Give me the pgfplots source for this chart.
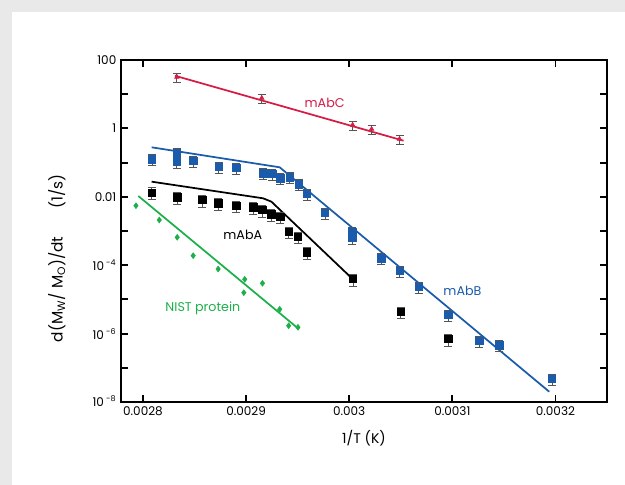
\documentclass[border=0pt]{standalone}
\usepackage{pgfplots}
\pgfplotsset{compat=1.18}
\usepackage{fontspec}
\setmainfont{Poppins}
\definecolor{cred}{HTML}{D81B45}
\definecolor{cblue}{HTML}{1A5CAB}
\definecolor{cgreen}{HTML}{1DB04A}
\definecolor{ebar}{HTML}{555555}
\definecolor{bggray}{HTML}{E9E9E9}
\begin{document}
\begin{tikzpicture}[x=0.75pt,y=0.75pt]
% page: 625x485 px, axis box lower-left at image pixel (121,402)
\fill[bggray] (-121,-83) rectangle (504,402);
\fill[white] (-109,-83) rectangle (504,390);
\begin{axis}[
    scale only axis,
    width=364.5pt,
    height=256.5pt,
    ymode=log,
    xmin=0.0027787, xmax=0.00325,
    ymin=1e-8, ymax=100,
    scaled x ticks=false,
    xtick={0.0028,0.0029,0.003,0.0031,0.0032},
    xticklabels={0.0028,0.0029,0.003,0.0031,0.0032},
    ytick={1e-8,1e-6,1e-4,1e-2,1,100},
    yticklabels={\raisebox{1.5pt}{10\textsuperscript{ -8}},
                 \raisebox{-0.8pt}{10\textsuperscript{ -6}},
                 \raisebox{-0.8pt}{10\textsuperscript{ -4}},
                 \raisebox{-7.5pt}{0.01},
                 \raisebox{-5.5pt}{1},
                 \raisebox{-5.2pt}{100}},
    minor ytick={1e-7,1e-5,1e-3,0.1,10},
    tick align=inside,
    major tick length=5.25pt,
    minor tick length=5.25pt,
    every tick/.style={black, line width=1.4pt},
    axis line style={line width=1.8pt},
    tick label style={font=\fontsize{9}{11}\selectfont},
    xlabel={1/T (K)},
    ylabel={d(M\textsubscript{W}/ M\textsubscript{O})/dt\hspace{1.8em}(1/s)},
    xlabel style={font=\fontsize{10.5}{13}\selectfont, at={(axis description cs:0.5,-0.105)}, anchor=center},
    ylabel style={font=\fontsize{11.5}{13}\selectfont, at={(axis description cs:-0.132,0.42)}, anchor=center, rotate=0},
    clip=false,
]
% mAbC
\addplot[cred, line width=1.3pt] coordinates {(0.002831,34.7) (0.0030527,0.437)};
\addplot[only marks, mark=triangle*, mark size=2pt, cred,
    error bars/.cd, y dir=both, y fixed relative=0.3,
    error bar style={ebar, line width=0.6pt},
    error mark options={ebar, line width=0.6pt, mark size=3pt, rotate=90}]
    coordinates {
    (0.0028329,31.8) (0.0029152,7.74) (0.0030033,1.26) (0.0030217,0.955) (0.0030488,0.49)
};
% mAbB
\addplot[cblue, line width=1.3pt] coordinates {(0.0028084,0.280) (0.0029326,0.0729) (0.003194,2.0e-8)};
\addplot[only marks, mark=square*, mark size=2.8pt, cblue,
    error bars/.cd, y dir=both, y fixed relative=0.35,
    error bar style={ebar, line width=0.6pt},
    error mark options={ebar, line width=0.6pt, mark size=3pt, rotate=90}]
    coordinates {
    (0.0028087,0.125) (0.0028326,0.187) (0.0028326,0.106) (0.0028487,0.114)
    (0.0028736,0.0759) (0.0028907,0.0710) (0.0029165,0.0486) (0.0029252,0.0464)
    (0.0029333,0.0348) (0.0029423,0.0372) (0.002951,0.0232) (0.0029591,0.0121)
    (0.0029765,0.00336) (0.003003,9.35e-4) (0.003003,6.24e-4) (0.0030311,1.59e-4)
    (0.0030488,6.76e-5) (0.0030675,2.35e-5) (0.0030962,3.50e-6) (0.0031262,6.08e-7)
    (0.0031456,4.55e-7) (0.0031966,4.71e-8)
};
% mAbA
\addplot[black, line width=1.3pt] coordinates {(0.0028084,0.0277) (0.0029165,0.00904) (0.0029246,0.00719) (0.0030023,4.22e-5)};
\addplot[only marks, mark=square*, mark size=2.8pt, black,
    error bars/.cd, y dir=both, y fixed relative=0.38,
    error bar style={ebar, line width=0.6pt},
    error mark options={ebar, line width=0.6pt, mark size=3pt, rotate=90}]
    coordinates {
    (0.0028084,0.0132) (0.0028332,0.00967) (0.0028574,0.00806) (0.0028729,0.00645)
    (0.0028907,0.00549) (0.0029068,0.00493) (0.0029159,0.00411) (0.0029246,0.00308)
    (0.0029333,0.00262) (0.0029413,9.55e-4) (0.0029503,6.81e-4) (0.0029591,2.38e-4)
    (0.0030036,3.95e-5) (0.0030498,4.37e-6) (0.0030962,6.95e-7)
};
% NIST protein
\addplot[cgreen, line width=1.3pt] coordinates {(0.0027955,0.01055) (0.0029503,1.43e-6)};
\addplot[only marks, mark=diamond*, mark size=2.2pt, cgreen] coordinates {
    (0.0027932,0.00549) (0.0028158,0.0021) (0.0028332,6.55e-4) (0.0028487,1.90e-4)
    (0.0028729,7.74e-5) (0.0028987,3.87e-5) (0.0028978,1.57e-5) (0.0029159,2.96e-5)
    (0.0029326,5.14e-6) (0.0029413,1.70e-6) (0.0029503,1.53e-6)
};
\node[cred, font=\fontsize{9.5}{12}\selectfont] at (axis cs:0.0029762,5.53) {mAbC};
\node[black, font=\fontsize{9.5}{12}\selectfont] at (axis cs:0.0028968,7.64e-4) {mAbA};
\node[cgreen, font=\fontsize{9.5}{12}\selectfont] at (axis cs:0.0028581,5.61e-6) {NIST protein};
\node[cblue, font=\fontsize{9.5}{12}\selectfont] at (axis cs:0.0031098,1.76e-5) {mAbB};
\end{axis}
\pgfresetboundingbox
\path (-121,-83) rectangle (504,402);
\end{tikzpicture}
\end{document}
